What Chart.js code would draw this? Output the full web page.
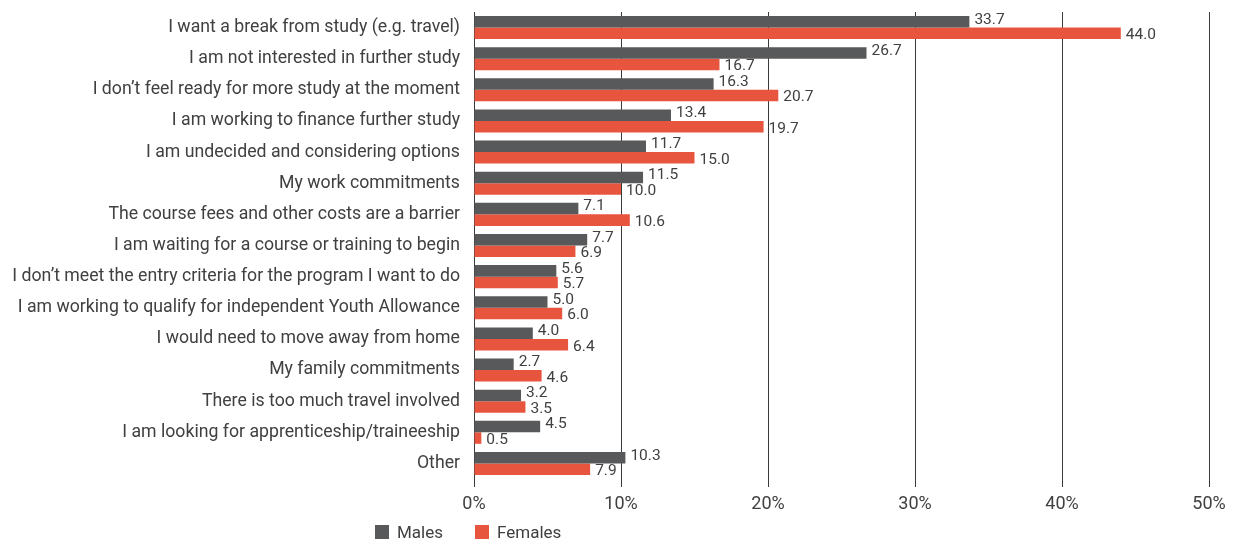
<!DOCTYPE html>
<html>
<head>
<meta charset="utf-8">
<script src="https://cdn.jsdelivr.net/npm/chart.js@4.4.1/dist/chart.umd.min.js"></script>
<style>
  html, body { margin: 0; padding: 0; background: #fff; }
  #wrap { position: relative; width: 1242px; height: 542px; }
  #legend { position: absolute; left: 375px; top: 522px; font: 17px Roboto, sans-serif; color: #404040; display: flex; }
  .item { display: flex; align-items: center; margin-right: 32px; }
  .box { width: 14px; height: 14px; margin-right: 8px; }
</style>
</head>
<body>
<div id="wrap">
  <canvas id="c" width="1242" height="542"></canvas>
  <div id="legend"></div>
</div>
<script>
const categories = [
  'I want a break from study (e.g. travel)',
  'I am not interested in further study',
  'I don\u2019t feel ready for more study at the moment',
  'I am working to finance further study',
  'I am undecided and considering options',
  'My work commitments',
  'The course fees and other costs are a barrier',
  'I am waiting for a course or training to begin',
  'I don\u2019t meet the entry criteria for the program I want to do',
  'I am working to qualify for independent Youth Allowance',
  'I would need to move away from home',
  'My family commitments',
  'There is too much travel involved',
  'I am looking for apprenticeship/traineeship',
  'Other'
];
const males   = [33.7, 26.7, 16.3, 13.4, 11.7, 11.5, 7.1, 7.7, 5.6, 5.0, 4.0, 2.7, 3.2, 4.5, 10.3];
const females = [44.0, 16.7, 20.7, 19.7, 15.0, 10.0, 10.6, 6.9, 5.7, 6.0, 6.4, 4.6, 3.5, 0.5, 7.9];
const xTicks = [0, 10, 20, 30, 40, 50];

const MALE_COLOR = '#58595b';
const FEMALE_COLOR = '#e8553e';
const TEXT = '#404040';
const FONT = 'Roboto, sans-serif';

// Value labels at the end of each bar
const valueLabels = {
  id: 'valueLabels',
  afterDatasetsDraw(chart) {
    const ctx = chart.ctx;
    ctx.save();
    ctx.font = '15.5px ' + FONT;
    ctx.fillStyle = TEXT;
    ctx.textAlign = 'left';
    ctx.textBaseline = 'middle';
    chart.data.datasets.forEach((ds, di) => {
      const meta = chart.getDatasetMeta(di);
      const dy = di === 0 ? -2 : 2;
      meta.data.forEach((bar, i) => {
        ctx.fillText(ds.data[i].toFixed(1), bar.x + 5, bar.y + dy);
      });
    });
    ctx.restore();
  }
};

new Chart(document.getElementById('c'), {
  type: 'bar',
  data: {
    labels: categories,
    datasets: [
      { label: 'Males', data: males, backgroundColor: MALE_COLOR },
      { label: 'Females', data: females, backgroundColor: FEMALE_COLOR }
    ]
  },
  options: {
    indexAxis: 'y',
    responsive: false,
    animation: false,
    layout: { padding: { top: 12, right: 33, bottom: 25, left: 0 } },
    datasets: { bar: { categoryPercentage: 0.74, barPercentage: 1.0 } },
    plugins: { legend: { display: false }, tooltip: { enabled: false } },
    scales: {
      x: {
        min: 0, max: 50,
        afterBuildTicks(scale) { scale.ticks = xTicks.map(v => ({ value: v })); },
        afterFit(scale) { scale.height = 38; },
        grid: { color: '#3a3a3a', lineWidth: 1, tickLength: 8, drawTicks: true },
        border: { display: false },
        ticks: { padding: 7, color: TEXT, font: { family: FONT, size: 18 }, callback: v => v + '%' }
      },
      y: {
        afterFit(scale) {
          scale.width = 474;
          scale.paddingTop = 0;
          scale.paddingBottom = 0;
        },
        grid: { display: false, drawTicks: false, tickLength: 0 },
        border: { display: false },
        ticks: { padding: 14, color: TEXT, font: { family: FONT, size: 17.7 } }
      }
    }
  },
  plugins: [valueLabels]
});

// Legend
const legendEl = document.getElementById('legend');
[['Males', MALE_COLOR], ['Females', FEMALE_COLOR]].forEach(([name, col]) => {
  const it = document.createElement('div');
  it.className = 'item';
  it.innerHTML = '<span class="box" style="background:' + col + '"></span><span>' + name + '</span>';
  legendEl.appendChild(it);
});
</script>
</body>
</html>
